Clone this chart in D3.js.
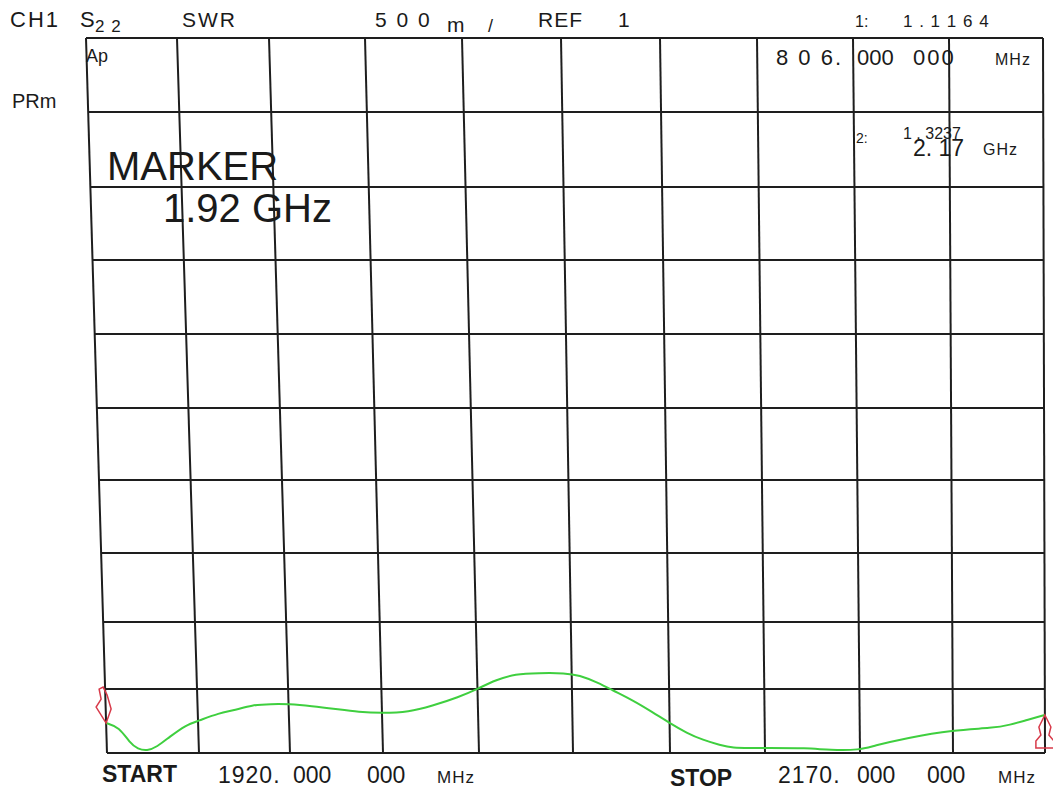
<!DOCTYPE html>
<html>
<head>
<meta charset="utf-8">
<script src="https://cdn.jsdelivr.net/npm/d3@7"></script>
<style>
  body { margin: 0; background: #fff; }
  svg { display: block; }
  text { font-family: Arial, "Liberation Sans", sans-serif; fill: #1a1a1a; }
</style>
</head>
<body>
<div id="chart"></div>
<script>
// sweep settings and grid divisions
var freqTicks = [1920, 1945, 1970, 1995, 2020, 2045, 2070, 2095, 2120, 2145, 2170];
var swrTicks = [1, 1.5, 2, 2.5, 3, 3.5, 4, 4.5, 5, 5.5, 6];

// S22 SWR trace
var traceFreq = [1920, 1923.5, 1926.3, 1928.4, 1930.9, 1933.6, 1937.1, 1941.7, 1945, 1950.8, 1955.4,
                 1959.8, 1965.3, 1970, 1976.2, 1982.6, 1988.8, 1995, 2002, 2008, 2015.1,
                 2020, 2024.8, 2030.1, 2036.2, 2043.4, 2046.8, 2052, 2055.3, 2060.5, 2065.6,
                 2070, 2074.5, 2078.7, 2083.2, 2086.6, 2091.1, 2095, 2106.1, 2112.1, 2120,
                 2123.5, 2132.6, 2145, 2155.9, 2160.5, 2165.1, 2170];
var traceSwr = [1.234, 1.203, 1.078, 1.031, 1.016, 1.047, 1.125, 1.219, 1.25, 1.312, 1.336,
                1.375, 1.383, 1.383, 1.367, 1.344, 1.32, 1.312, 1.32, 1.367, 1.437,
                1.5, 1.567, 1.612, 1.619, 1.619, 1.604, 1.545, 1.492, 1.414, 1.32,
                1.234, 1.156, 1.102, 1.062, 1.039, 1.039, 1.039, 1.039, 1.023, 1.023,
                1.055, 1.117, 1.18, 1.195, 1.219, 1.258, 1.297];

// marker positions (index into the trace) and direction of the flag
var markerIndex = [0, traceFreq.length - 1];
var markerDir = [-1, 1];

var W = 1053, H = 790;
var gridTop = 38, gridBottom = 753;

var svg = d3.select("#chart").append("svg")
    .attr("width", W)
    .attr("height", H);

// the screen photo is uneven: divisions are not all the same size and the
// left edge leans in toward the bottom, so use piecewise scales
var xTop = d3.scaleLinear().domain(freqTicks)
    .range([86, 177, 269, 365, 462, 561, 660, 757, 853, 949, 1043]);
var xBot = d3.scaleLinear().domain(freqTicks)
    .range([107, 199, 290, 383, 479, 573, 670, 765, 860, 953, 1045]);
var y = d3.scaleLinear().domain(swrTicks)
    .range([gridBottom, 689, 622, 553, 480, 408, 334, 260, 187, 112, gridTop]);

function px(f, v) {
  var t = (y(v) - gridTop) / (gridBottom - gridTop);
  return xTop(f) + (xBot(f) - xTop(f)) * t;
}

var grid = svg.append("g")
    .attr("stroke", "#1e1e1e")
    .attr("stroke-width", 2);

grid.selectAll(".vline")
    .data(freqTicks)
  .enter().append("line")
    .attr("x1", function(d) { return xTop(d); })
    .attr("y1", gridTop)
    .attr("x2", function(d) { return xBot(d); })
    .attr("y2", gridBottom);

grid.selectAll(".hline")
    .data(swrTicks)
  .enter().append("line")
    .attr("x1", function(d) { return px(1920, d); })
    .attr("y1", function(d) { return y(d); })
    .attr("x2", function(d) { return px(2170, d); })
    .attr("y2", function(d) { return y(d); });

// trace
var line = d3.line()
    .x(function(d, i) { return px(traceFreq[i], traceSwr[i]); })
    .y(function(d, i) { return y(traceSwr[i]); })
    .curve(d3.curveBasis);

svg.append("path")
    .datum(traceFreq)
    .attr("fill", "none")
    .attr("stroke", "#3fcf3f")
    .attr("stroke-width", 2)
    .attr("d", line);

// marker flags (outlined arrows in red)
markerIndex.forEach(function(idx, k) {
  var mx = px(traceFreq[idx], traceSwr[idx]);
  var my = y(traceSwr[idx]);
  var d;
  if (markerDir[k] < 0) {
    // start marker sits above the trace, tip pointing down
    d = "M" + mx + "," + my +
        " l5,-14 l-4,-14 l-4,-8 l-4,2 l2,10 l-5,8 z";
  } else {
    // stop marker below the trace, tip pointing up
    d = "M" + mx + "," + my +
        " l6,12 l-2,8 l5,6 l0,7 l-18,0 l0,-7 l5,-6 l-2,-8 z";
  }
  svg.append("path")
    .attr("d", d)
    .attr("fill", "none")
    .attr("stroke", "#d83a4a")
    .attr("stroke-width", 1.5);
});

// screen annotations
function label(x, yy, s, size, opts) {
  opts = opts || {};
  var t = svg.append("text")
    .attr("x", x)
    .attr("y", yy)
    .attr("font-size", size)
    .text(s);
  if (opts.bold) t.attr("font-weight", "bold");
  if (opts.ls) t.attr("letter-spacing", opts.ls);
  return t;
}

label(10, 27, "CH1", 22, {ls: 2});
label(80, 27, "S", 22);
label(95, 32, "2 2", 17, {ls: 1});
label(182, 27, "SWR", 21, {ls: 2});
label(375, 27, "5 0 0", 21, {ls: 2});
label(447, 32, "m", 21);
label(488, 32, "/", 18);
label(538, 27, "REF", 21, {ls: 1});
label(618, 27, "1", 21);

label(855, 27, "1:", 16);
label(903, 27, "1 . 1 1 6 4", 17, {ls: 1});
label(776, 65, "8 0 6.", 22, {ls: 2});
label(857, 65, "000", 22);
label(913, 65, "000", 22, {ls: 2});
label(995, 65, "MHz", 16, {ls: 1});

label(856, 143, "2:", 14);
label(903, 139, "1 . 3237", 16);
label(913, 156, "2. 17", 23);
label(983, 155, "GHz", 16, {ls: 1});

label(86, 62, "Ap", 18);
label(12, 108, "PRm", 20);

label(107, 180, "MARKER", 40);
label(163, 222, "1.92 GHz", 40);

label(102, 782, "START", 23, {bold: true});
label(218, 783, "1920.", 23, {ls: 1});
label(293, 783, "000", 23);
label(367, 783, "000", 23);
label(437, 783, "MHz", 17, {ls: 1});

label(670, 786, "STOP", 23, {bold: true});
label(778, 783, "2170.", 23, {ls: 1});
label(857, 783, "000", 23);
label(927, 783, "000", 23);
label(998, 783, "MHz", 17, {ls: 1});
</script>
</body>
</html>
